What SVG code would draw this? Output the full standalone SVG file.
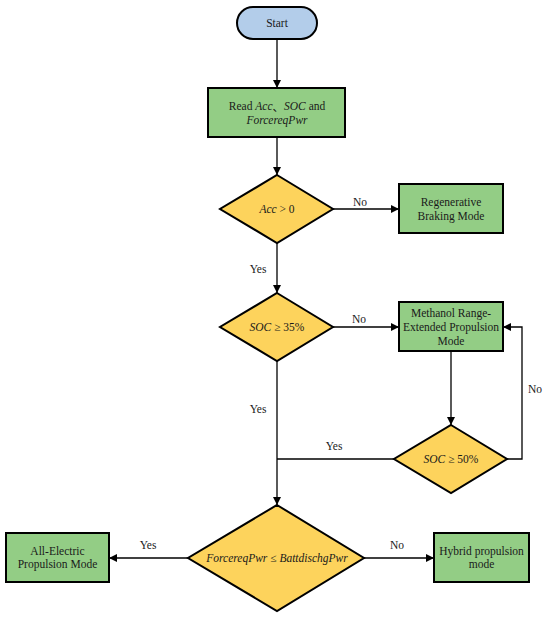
<svg xmlns="http://www.w3.org/2000/svg" width="550" height="617" viewBox="0 0 550 617">
<defs>
<style>
.t{font-family:'Liberation Serif','Times New Roman','DejaVu Serif',serif;font-size:11.5px;fill:#1a1a1a;text-anchor:middle;dominant-baseline:central}
.cjk{font-family:'Noto Sans CJK SC',sans-serif}
.i{font-style:italic}
.box{fill:#93CD85;stroke:#000;stroke-width:2}
.dia{fill:#FDD35C;stroke:#000;stroke-width:2}
.term{fill:#B3CDEA;stroke:#000;stroke-width:2}
.ln{fill:none;stroke:#000;stroke-width:1.3}
</style>
<marker id="ah" viewBox="0 0 10 10" refX="10" refY="5" markerWidth="8" markerHeight="8" markerUnits="userSpaceOnUse" orient="auto">
<path d="M0,0 L10,5 L0,10 z" fill="#000"/>
</marker>
</defs>
<rect width="550" height="617" fill="#fff"/>
<g id="connectors">
<line class="ln" x1="277" y1="39" x2="277" y2="88" marker-end="url(#ah)"/>
<line class="ln" x1="277" y1="137" x2="277" y2="175" marker-end="url(#ah)"/>
<line class="ln" x1="333" y1="209" x2="399" y2="209" marker-end="url(#ah)"/>
<line class="ln" x1="277" y1="243" x2="277" y2="293" marker-end="url(#ah)"/>
<line class="ln" x1="333" y1="327" x2="399" y2="327" marker-end="url(#ah)"/>
<line class="ln" x1="451" y1="351" x2="451" y2="425" marker-end="url(#ah)"/>
<polyline class="ln" points="507,459 522,459 522,327 503,327" marker-end="url(#ah)"/>
<line class="ln" x1="394" y1="459" x2="277" y2="459"/>
<line class="ln" x1="277" y1="361" x2="277" y2="505" marker-end="url(#ah)"/>
<line class="ln" x1="188" y1="558" x2="109" y2="558" marker-end="url(#ah)"/>
<line class="ln" x1="364" y1="558" x2="434" y2="558" marker-end="url(#ah)"/>
<text class="t" x="360" y="202">No</text>
<text class="t" x="258" y="269">Yes</text>
<text class="t" x="359" y="319">No</text>
<text class="t" x="258" y="409">Yes</text>
<text class="t" x="334" y="446">Yes</text>
<text class="t" x="535" y="389">No</text>
<text class="t" x="148" y="545">Yes</text>
<text class="t" x="397" y="545">No</text>
</g>
<g id="start">
<rect class="term" x="237" y="7" width="80" height="32" rx="16" ry="16"/>
<text class="t" x="277" y="23">Start</text>
</g>
<g id="read">
<rect class="box" x="208" y="88" width="137" height="49"/>
<text class="t" x="277" y="106">Read <tspan class="i">Acc</tspan><tspan class="cjk">、</tspan><tspan class="i">SOC</tspan> and</text>
<text class="t i" x="277" y="120">ForcereqPwr</text>
</g>
<g id="acc">
<polygon class="dia" points="277,175 333,209 277,243 220,209"/>
<text class="t" x="277" y="209"><tspan class="i">Acc</tspan> &gt; 0</text>
</g>
<g id="regen">
<rect class="box" x="399" y="184" width="104" height="49"/>
<text class="t" x="451" y="202">Regenerative</text>
<text class="t" x="451" y="216">Braking Mode</text>
</g>
<g id="soc35">
<polygon class="dia" points="277,293 333,327 277,361 220,327"/>
<text class="t" x="277" y="327"><tspan class="i">SOC</tspan> ≥ 35%</text>
</g>
<g id="methanol">
<rect class="box" x="399" y="302" width="104" height="49"/>
<text class="t" x="451" y="313">Methanol Range-</text>
<text class="t" x="451" y="327">Extended Propulsion</text>
<text class="t" x="451" y="341">Mode</text>
</g>
<g id="soc50">
<polygon class="dia" points="451,425 507,459 451,493 394,459"/>
<text class="t" x="451" y="459"><tspan class="i">SOC</tspan> ≥ 50%</text>
</g>
<g id="power">
<polygon class="dia" points="277,505 364,558 277,611 188,558"/>
<text class="t i" x="277" y="558">ForcereqPwr ≤ BattdischgPwr</text>
</g>
<g id="allelectric">
<rect class="box" x="6" y="533" width="103" height="49"/>
<text class="t" x="57.5" y="551">All-Electric</text>
<text class="t" x="57.5" y="564">Propulsion Mode</text>
</g>
<g id="hybrid">
<rect class="box" x="434" y="533" width="95" height="49"/>
<text class="t" x="481.5" y="551">Hybrid propulsion</text>
<text class="t" x="481.5" y="564">mode</text>
</g>
</svg>
